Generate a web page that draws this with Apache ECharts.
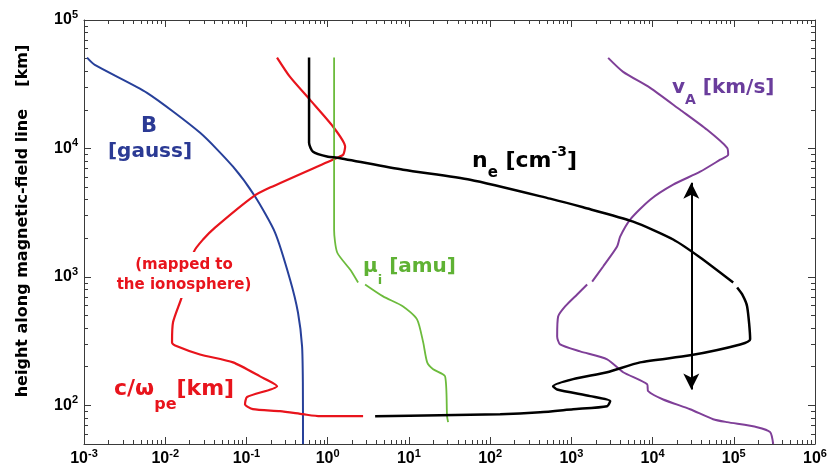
<!DOCTYPE html>
<html>
<head>
<meta charset="utf-8">
<script src="https://cdn.jsdelivr.net/npm/echarts@6/dist/echarts.min.js"></script>
<style>
  html, body { margin: 0; padding: 0; background: #fff; }
  #chart { width: 829px; height: 476px; }
</style>
</head>
<body>
<div id="chart"></div>
<script>
// axis ranges (x: quantity value, y: height in km)
var xRange = [1e-3, 1e6];
var yRange = [50, 1e5];

var xMajor = [1e-3, 1e-2, 1e-1, 1, 1e1, 1e2, 1e3, 1e4, 1e5, 1e6];
var yMajor = [1e2, 1e3, 1e4, 1e5];

// [value, height km] pairs
var bField = [[1.09e-3, 51000], [1.36e-3, 44700], [5.97e-3, 27100], [0.0269, 13240], [0.0684, 7210],
    [0.1277, 4220], [0.225, 2213], [0.344, 955], [0.431, 528], [0.484, 288], [0.495, 150], [0.497, 50]];

var cwpe = [[0.238, 51000], [0.344, 36050], [0.607, 23880], [1.166, 14760], [1.64, 10300], [1.55, 8930],
    [1.31, 8470], [0.195, 4955], [0.121, 4220], [0.041, 2420], [0.0292, 1955], [0.0226, 1575], [0.0161, 705],
    [0.01248, 443], [0.01213, 309], [0.01397, 288], [0.0268, 249], [0.0684, 216], [0.147, 168], [0.238, 141],
    [0.1017, 116], [0.096, 102], [0.12, 93.3], [0.259, 90], [0.497, 85.3], [0.805, 82.3], [2.73, 82.3]];

var neUpper = [[0.59, 51000], [0.59, 11070], [0.661, 9420], [1.01, 8610], [1.31, 8470], [8.49, 6825],
    [56.8, 5710], [548, 4065], [1397, 3480], [5770, 2692], [17940, 1955], [38550, 1416], [98400, 904]];
var neLower = [[110000, 828], [127000, 730], [146000, 589], [159000, 327], [120000, 298], [29000, 245],
    [7030, 216], [2760, 181], [1052, 160], [597, 141], [669, 133], [1706, 118], [3006, 108], [2760, 98.4],
    [1052, 93.3], [413, 88.4], [133, 85.3], [24.2, 83.8], [3.84, 82.3]];

var muUpper = [[1.2, 51000], [1.2, 2333], [1.31, 1549], [1.89, 1141], [2.37, 904]];
var muLower = [[2.89, 873], [4.81, 705], [8.49, 589], [12.6, 467], [15.0, 309], [16.8, 216], [19.9, 191],
    [27.9, 168], [29.5, 82.3], [30.4, 74]];

var vaUpper = [[2840, 50700], [4345, 39450], [9340, 29650], [21860, 20000], [47000, 13960], [82900, 10120],
    [85300, 8930], [68000, 8170], [38550, 6590], [17940, 5225], [9340, 3990], [5300, 2795], [3990, 2060],
    [3660, 1722], [2465, 1205], [1805, 920]];
var vaLower = [[1566, 873], [1179, 730], [839, 589], [688, 492], [669, 344], [728, 298], [1283, 263],
    [2760, 228], [4345, 181], [8580, 146], [8830, 129], [13520, 111], [29000, 93.3], [55700, 78],
    [82900, 74], [194000, 67.6], [280500, 61.8], [305600, 50]];

// double arrow: x value, top and bottom height
var arrowX = 3.0e4;
var arrowY = [5400, 133];

function minorOf(lo, hi) {
    var out = [];
    for (var e = -4; e <= 6; e++) {
        for (var m = 2; m <= 9; m++) {
            var v = m * Math.pow(10, e);
            if (v > lo && v < hi) out.push(v);
        }
    }
    return out;
}
var xMinor = minorOf(xRange[0], xRange[1]);
var yMinor = minorOf(yRange[0], yRange[1]);

var AX = '#3a3a3a';
var tickRich = {
    b: { fontSize: 16, fontWeight: 'bold', fontFamily: 'Liberation Sans', color: '#000' },
    s: { fontSize: 11, fontWeight: 'bold', fontFamily: 'Liberation Sans', color: '#000', padding: [0, 0, 10, 0] }
};
function powLabel(v) {
    return '{b|10}{s|' + Math.round(Math.log10(v)) + '}';
}

function makeAxis(kind, pos, range, ticks, len, labels) {
    var ax = {
        type: 'log', logBase: 10, min: range[0], max: range[1], position: pos,
        gridIndex: 0,
        axisLine: { show: labels !== null, lineStyle: { color: AX, width: 1 } },
        axisTick: { show: true, inside: true, length: len, customValues: ticks, lineStyle: { color: AX, width: 1 } },
        axisLabel: { show: false },
        splitLine: { show: false },
        minorTick: { show: false }
    };
    if (labels) {
        ax.axisLabel = {
            show: true, customValues: labels, formatter: powLabel, rich: tickRich,
            margin: kind === 'x' ? 4 : 6
        };
    }
    return ax;
}

var dom = document.getElementById('chart');
var myChart = echarts.init(dom, null, { renderer: 'canvas' });

function curve(data, color, width) {
    return {
        type: 'line', data: data, xAxisIndex: 0, yAxisIndex: 0,
        showSymbol: false, symbol: 'none', silent: true, smooth: 0.22,
        lineStyle: { color: color, width: width }, z: 3
    };
}

var ne1 = curve(neUpper, '#000', 2.5);
ne1.markLine = {
    silent: true, animation: false,
    symbol: ['arrow', 'arrow'], symbolSize: [12, 16],
    lineStyle: { color: '#000', width: 2, type: 'solid' },
    label: { show: false },
    data: [[{ coord: [arrowX, arrowY[0]] }, { coord: [arrowX, arrowY[1]] }]]
};

var ann = 'DejaVu Sans';
var option = {
    animation: false,
    backgroundColor: '#fff',
    grid: { left: 84, right: 14, top: 20, bottom: 32, containLabel: false, outerBoundsMode: 'none' },
    xAxis: [
        makeAxis('x', 'bottom', xRange, xMajor, 7, xMajor),
        makeAxis('x', 'bottom', xRange, xMinor, 4, null),
        makeAxis('x', 'top', xRange, xMajor, 7, false),
        makeAxis('x', 'top', xRange, xMinor, 4, null)
    ],
    yAxis: [
        makeAxis('y', 'left', yRange, yMajor, 7, yMajor),
        makeAxis('y', 'left', yRange, yMinor, 4, null),
        makeAxis('y', 'right', yRange, yMajor, 7, false),
        makeAxis('y', 'right', yRange, yMinor, 4, null)
    ],
    series: [
        curve(bField, '#27409a', 2),
        curve(cwpe, '#e8141c', 2.2),
        curve(muUpper, '#6cbb3c', 1.8),
        curve(muLower, '#6cbb3c', 1.8),
        curve(vaUpper, '#7f3f98', 2),
        curve(vaLower, '#7f3f98', 2),
        ne1,
        curve(neLower, '#000', 2.5)
    ],
    graphic: [
        {
            type: 'text', x: 23, y: 221, rotation: Math.PI / 2, z: 100,
            style: { text: 'height along magnetic-field line    [km]', align: 'center', verticalAlign: 'middle',
                fontSize: 16, fontWeight: 'bold', fontFamily: ann, fill: '#000' }
        },
        {
            type: 'text', x: 149, y: 127, z: 100,
            style: { text: 'B', align: 'center', verticalAlign: 'middle', fontSize: 21, fontWeight: 'bold', fontFamily: ann, fill: '#2b3a94' }
        },
        {
            type: 'text', x: 150, y: 152, z: 100,
            style: { text: '[gauss]', align: 'center', verticalAlign: 'middle', fontSize: 20, fontWeight: 'bold', fontFamily: ann, fill: '#2b3a94' }
        },
        {
            type: 'text', x: 184, y: 275, z: 100,
            style: { text: '(mapped to\nthe ionosphere)', align: 'center', verticalAlign: 'middle', lineHeight: 20,
                fontSize: 15, fontWeight: 'bold', fontFamily: ann, fill: '#e8141c', backgroundColor: '#fff', padding: [3, 2] }
        },
        {
            type: 'text', x: 114, y: 389, z: 100,
            style: {
                text: '{m|c/\u03c9}{s|pe}{m|[km]}', align: 'left', verticalAlign: 'middle', fill: '#e8141c',
                rich: {
                    m: { fontSize: 22, fontWeight: 'bold', fontFamily: ann, fill: '#e8141c' },
                    s: { fontSize: 16, fontWeight: 'bold', fontFamily: ann, fill: '#e8141c', padding: [32, 0, 0, 0] }
                }
            }
        },
        {
            type: 'text', x: 363, y: 267, z: 100,
            style: {
                text: '{m|\u03bc}{s|i}{m| [amu]}', align: 'left', verticalAlign: 'middle', fill: '#5fb234',
                rich: {
                    m: { fontSize: 20, fontWeight: 'bold', fontFamily: ann, fill: '#5fb234' },
                    s: { fontSize: 13, fontWeight: 'bold', fontFamily: ann, fill: '#5fb234', padding: [28, 0, 0, 0] }
                }
            }
        },
        {
            type: 'text', x: 472, y: 161, z: 100,
            style: {
                text: '{m|n}{s|e}{m| [cm}{u|-3}{m|]}', align: 'left', verticalAlign: 'middle', fill: '#000',
                rich: {
                    m: { fontSize: 22, fontWeight: 'bold', fontFamily: ann, fill: '#000' },
                    s: { fontSize: 15, fontWeight: 'bold', fontFamily: ann, fill: '#000', padding: [24, 0, 0, 0] },
                    u: { fontSize: 14, fontWeight: 'bold', fontFamily: ann, fill: '#000', padding: [0, 0, 18, 0] }
                }
            }
        },
        {
            type: 'text', x: 672, y: 88, z: 100,
            style: {
                text: '{m|v}{s|A}{m| [km/s]}', align: 'left', verticalAlign: 'middle', fill: '#6a3d9c',
                rich: {
                    m: { fontSize: 20, fontWeight: 'bold', fontFamily: ann, fill: '#6a3d9c' },
                    s: { fontSize: 14, fontWeight: 'bold', fontFamily: ann, fill: '#6a3d9c', padding: [24, 0, 0, 0] }
                }
            }
        }
    ]
};

if (option && typeof option === 'object') {
    myChart.setOption(option);
}
window.addEventListener('resize', myChart.resize);
</script>
</body>
</html>
